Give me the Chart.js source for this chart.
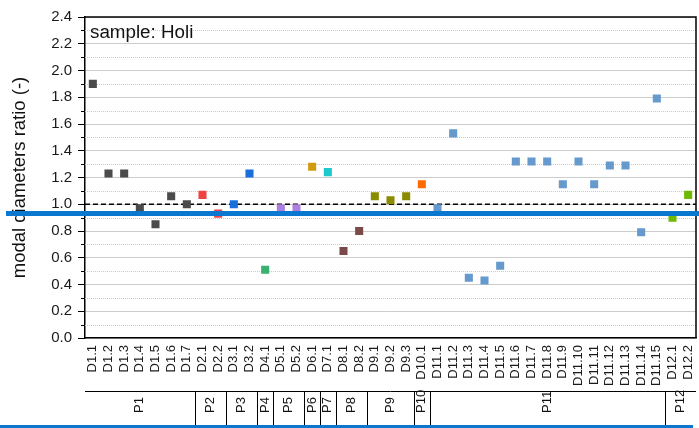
<!DOCTYPE html>
<html>
<head>
<meta charset="utf-8">
<script src="https://cdn.jsdelivr.net/npm/chart.js@4/dist/chart.umd.min.js"></script>
<style>
  html, body { margin: 0; padding: 0; background: #ffffff; }
  #wrap { position: relative; width: 699px; height: 428px; overflow: hidden; }
  canvas { display: block; }
  .rule { position: absolute; background: #0a77d0; }
</style>
</head>
<body>
<div id="wrap">
  <canvas id="c" width="699" height="428"></canvas>
  <div class="rule" style="left:6px; top:211px; width:693px; height:5px;"></div>
  <div class="rule" style="left:0; top:425px; width:693px; height:3px;"></div>
</div>
<script>
// Diameter labels along the x axis
const categories = [
  'D1.1', 'D1.2', 'D1.3', 'D1.4', 'D1.5', 'D1.6', 'D1.7',
  'D2.1', 'D2.2',
  'D3.1', 'D3.2',
  'D4.1',
  'D5.1', 'D5.2',
  'D6.1',
  'D7.1',
  'D8.1', 'D8.2',
  'D9.1', 'D9.2', 'D9.3',
  'D10.1',
  'D11.1', 'D11.2', 'D11.3', 'D11.4', 'D11.5', 'D11.6', 'D11.7', 'D11.8',
  'D11.9', 'D11.10', 'D11.11', 'D11.12', 'D11.13', 'D11.14', 'D11.15',
  'D12.1', 'D12.2'
];

// Modal diameters ratio for each diameter, same order as categories
const ratios = [
  1.90, 1.23, 1.23, 0.97, 0.85, 1.06, 1.00,
  1.07, 0.93,
  1.00, 1.23,
  0.51,
  0.97, 0.97,
  1.28,
  1.24,
  0.65, 0.80,
  1.06, 1.03, 1.06,
  1.15,
  0.97, 1.53, 0.45, 0.43, 0.54, 1.32, 1.32, 1.32,
  1.15, 1.32, 1.15, 1.29, 1.29, 0.79, 1.79,
  0.90, 1.07
];

// Groups (P1..P12) and how many diameters each one holds
const groupNames = ['P1', 'P2', 'P3', 'P4', 'P5', 'P6', 'P7', 'P8', 'P9', 'P10', 'P11', 'P12'];
const groupSizes = [7, 2, 2, 1, 2, 1, 1, 2, 3, 1, 15, 2];
const groupColors = [
  '#4b4b4b', '#ef4343', '#1b6fdc', '#38b26f', '#ad80de', '#d19c0c',
  '#1ec8cc', '#7a4a4a', '#8b8b00', '#ff6a00', '#6699cc', '#6fb900'
];

// Axis settings
const yMin = 0;
const yMax = 2.4;
const yMajorStep = 0.2;
const yMinorTicks = [0.1, 0.3, 0.5, 0.7, 0.9, 1.1, 1.3, 1.5, 1.7, 1.9, 2.1, 2.3];
const referenceRatio = 1.0;
const sampleLabel = 'sample: Holi';
const yTitle = 'modal diameters ratio (-)';

// One dataset per group
const datasets = [];
let start = 0;
groupNames.forEach((name, g) => {
  const pts = [];
  for (let i = start; i < start + groupSizes[g]; i++) {
    pts.push({ x: categories[i], y: ratios[i] });
  }
  start += groupSizes[g];
  datasets.push({
    label: name,
    data: pts,
    showLine: false,
    pointStyle: 'rect',
    pointRadius: 5.7,
    pointHoverRadius: 5.7,
    pointBorderWidth: 0,
    backgroundColor: groupColors[g],
    borderColor: groupColors[g]
  });
});

const FONT = '"Liberation Sans", Arial, sans-serif';

const decor = {
  id: 'decor',
  beforeDatasetsDraw(chart) {
    const { ctx, chartArea: a, scales: { y } } = chart;
    ctx.save();
    // dotted minor grid lines
    ctx.strokeStyle = '#c9c9c9';
    ctx.lineWidth = 1;
    ctx.setLineDash([1, 1]);
    yMinorTicks.forEach(v => {
      const py = Math.round(y.getPixelForValue(v)) + 0.5;
      ctx.beginPath();
      ctx.moveTo(a.left, py);
      ctx.lineTo(a.right, py);
      ctx.stroke();
    });
    // dashed reference line
    ctx.strokeStyle = '#000000';
    ctx.lineWidth = 1.5;
    ctx.setLineDash([5, 3]);
    const ry = y.getPixelForValue(referenceRatio);
    ctx.beginPath();
    ctx.moveTo(a.left, ry);
    ctx.lineTo(a.right, ry);
    ctx.stroke();
    ctx.restore();
  },
  afterDraw(chart) {
    const { ctx, chartArea: a, scales: { x, y } } = chart;
    ctx.save();
    ctx.setLineDash([]);
    // frame: top and right edges
    ctx.strokeStyle = '#000000';
    ctx.lineWidth = 1.5;
    ctx.beginPath();
    ctx.moveTo(a.left, a.top);
    ctx.lineTo(a.right, a.top);
    ctx.lineTo(a.right, a.bottom);
    ctx.stroke();
    // minor tick marks on the y axis
    ctx.lineWidth = 1;
    yMinorTicks.forEach(v => {
      const py = Math.round(y.getPixelForValue(v)) + 0.5;
      ctx.beginPath();
      ctx.moveTo(a.left - 4, py);
      ctx.lineTo(a.left, py);
      ctx.stroke();
    });
    // sample name
    ctx.fillStyle = '#111111';
    ctx.font = '18.8px ' + FONT;
    ctx.textAlign = 'left';
    ctx.textBaseline = 'alphabetic';
    ctx.fillText(sampleLabel, a.left + 5, a.top + 21);
    // group row below the diameter labels
    const step = x.getPixelForValue(1) - x.getPixelForValue(0);
    const rowTop = 391;
    ctx.lineWidth = 1;
    ctx.beginPath();
    ctx.moveTo(a.left, rowTop + 0.5);
    ctx.lineTo(a.right, rowTop + 0.5);
    ctx.stroke();
    let idx = 0;
    ctx.font = '13px ' + FONT;
    groupNames.forEach((name, g) => {
      const x0 = x.getPixelForValue(idx) - step / 2;
      const x1 = x.getPixelForValue(idx + groupSizes[g] - 1) + step / 2;
      if (g > 0) {
        const sx = Math.round(x0) + 0.5;
        ctx.beginPath();
        ctx.moveTo(sx, rowTop);
        ctx.lineTo(sx, chart.height);
        ctx.stroke();
      }
      ctx.save();
      ctx.translate((x0 + x1) / 2, 413);
      ctx.rotate(-Math.PI / 2);
      ctx.textAlign = 'left';
      ctx.textBaseline = 'middle';
      ctx.fillStyle = '#111111';
      ctx.fillText(name, 0, 0);
      ctx.restore();
      idx += groupSizes[g];
    });
    ctx.restore();
  }
};

new Chart(document.getElementById('c'), {
  type: 'line',
  data: { labels: categories, datasets },
  options: {
    responsive: false,
    animation: false,
    devicePixelRatio: 1,
    layout: { autoPadding: false, padding: { top: 17, right: 3, left: 0, bottom: 0 } },
    plugins: { legend: { display: false }, tooltip: { enabled: false } },
    scales: {
      x: {
        type: 'category',
        offset: true,
        grid: { display: false, drawTicks: false },
        border: { display: true, color: '#000000', width: 1.5 },
        ticks: {
          autoSkip: false,
          maxRotation: 90,
          minRotation: 90,
          padding: 7,
          color: '#1a1a1a',
          font: { family: FONT, size: 13 }
        },
        afterFit(scale) {
          scale.height = 90;
          scale.paddingLeft = 0;
          scale.paddingRight = 0;
        }
      },
      y: {
        min: yMin,
        max: yMax,
        grid: { color: '#cccccc', lineWidth: 1, tickColor: '#000000', tickLength: 7 },
        border: { display: true, color: '#000000', width: 1.5 },
        ticks: {
          stepSize: yMajorStep,
          padding: 6,
          color: '#1a1a1a',
          font: { family: FONT, size: 15 },
          callback: v => Number(v).toFixed(1)
        },
        title: {
          display: true,
          text: yTitle,
          color: '#111111',
          font: { family: FONT, size: 18.5 },
          padding: { top: 9, bottom: 0 }
        },
        afterFit(scale) { scale.width = 85; }
      }
    }
  },
  plugins: [decor]
});
</script>
</body>
</html>
